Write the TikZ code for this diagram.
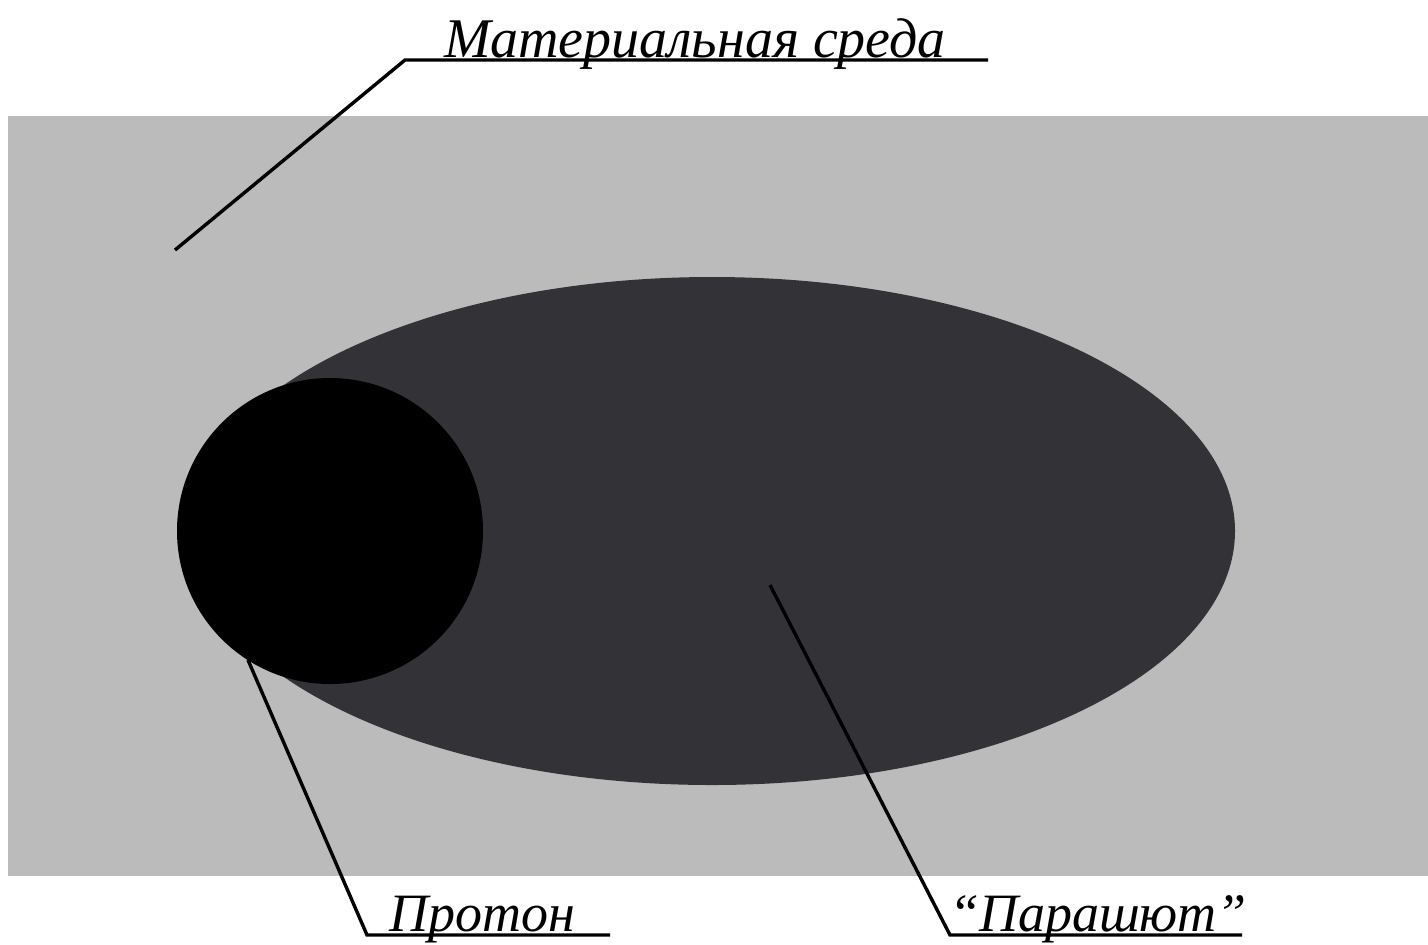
\documentclass[tikz,border=0pt]{standalone}
\usepackage{fontspec}
\setmainfont{Liberation Serif}
\begin{document}
\begin{tikzpicture}[x=0.5pt,y=-0.5pt,
  lbl/.style={font=\itshape\fontsize{27}{30}\selectfont, inner sep=0pt, anchor=base},
  lead/.style={line width=1.7pt, black}]
\useasboundingbox (0,0) rectangle (1428,944);
\fill[white] (0,0) rectangle (1428,944);
\fill[fill={rgb,255:red,187;green,187;blue,187}] (8,116) rectangle (1428,876);
\fill[fill={rgb,255:red,51;green,50;blue,54}] (712,531) ellipse [x radius=523, y radius=254];
\fill[black] (330,531) circle [radius=153];
\node[lbl, font=\itshape\fontsize{28}{30}\selectfont] (medium) at (695,57) {Материальная среда};
\node[lbl] (proton) at (482,931) {Протон};
\node[lbl] (chute) at (1098,931) {“Парашют”};
\coordinate (m0) at (175,250);
\coordinate (m1) at (405,60);
\coordinate (m2) at (988,60);
\coordinate (p0) at (248,660);
\coordinate (p1) at (367,935);
\coordinate (p2) at (610,935);
\coordinate (c0) at (770,585);
\coordinate (c1) at (950,935);
\coordinate (c2) at (1242,935);
\draw[lead] (m0) -- (m1) -- (m2);
\draw[lead] (p0) -- (p1) -- (p2);
\draw[lead] (c0) -- (c1) -- (c2);
\end{tikzpicture}
\end{document}
